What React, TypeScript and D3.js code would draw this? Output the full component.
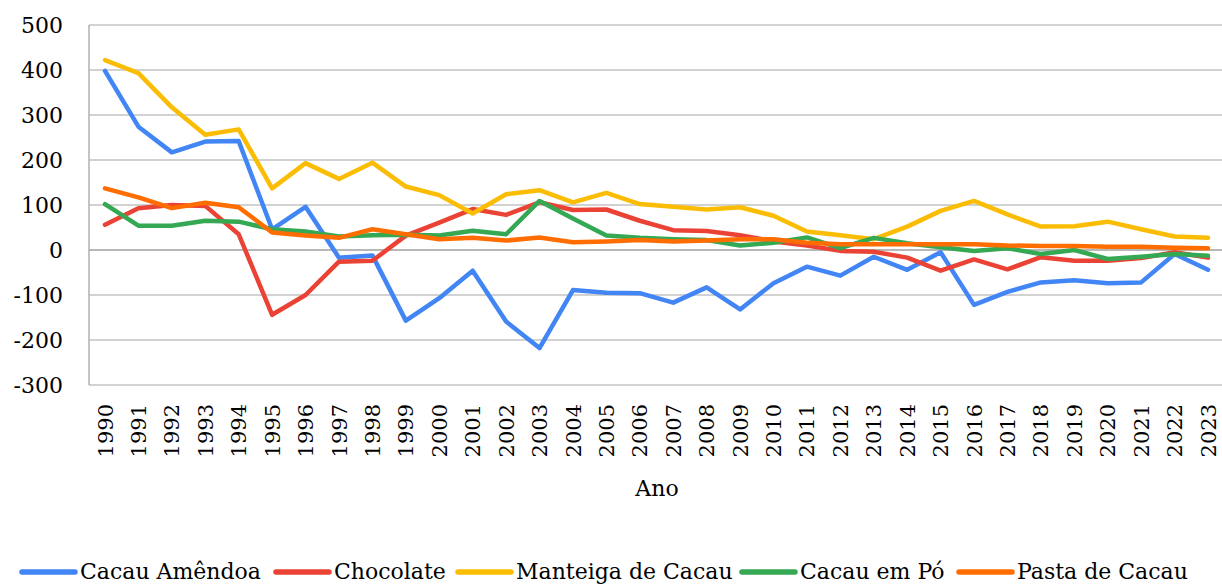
import { useRef, useEffect } from 'react';
import * as d3 from 'd3';

const YEARS = d3.range(1990, 2024).map(String);

const CACAU_AMENDOA = [398, 274, 217, 241, 242, 46, 96, -17, -12, -157, -107, -46, -159, -218, -89, -95, -96, -117, -83, -132, -74, -37, -57, -15, -44, -5, -122, -93, -72, -67, -74, -72, -9, -44];
const CHOCOLATE = [56, 93, 100, 98, 35, -144, -100, -26, -24, 32, 61, 91, 78, 106, 89, 90, 65, 44, 42, 33, 19, 10, -2, -4, -17, -46, -21, -43, -16, -24, -24, -18, -5, -17];
const MANTEIGA = [422, 393, 317, 256, 268, 137, 193, 158, 194, 141, 122, 81, 124, 133, 106, 127, 102, 96, 90, 95, 76, 41, 33, 24, 52, 87, 109, 79, 52, 53, 63, 46, 30, 27];
const CACAU_PO = [102, 54, 54, 65, 63, 46, 41, 30, 33, 34, 32, 43, 35, 109, 70, 32, 27, 24, 22, 10, 16, 28, 4, 27, 15, 6, -2, 4, -9, 0, -20, -15, -9, -13];
const PASTA = [137, 117, 93, 105, 95, 39, 32, 27, 46, 35, 24, 27, 21, 28, 17, 19, 22, 19, 21, 24, 24, 16, 13, 13, 13, 13, 13, 10, 9, 9, 7, 7, 5, 4];

const SERIES = [
  { name: 'Cacau Amêndoa', values: CACAU_AMENDOA, color: '#4285F4' },
  { name: 'Chocolate', values: CHOCOLATE, color: '#EA4335' },
  { name: 'Manteiga de Cacau', values: MANTEIGA, color: '#FBBC04' },
  { name: 'Cacau em Pó', values: CACAU_PO, color: '#34A853' },
  { name: 'Pasta de Cacau', values: PASTA, color: '#FF6D01' },
];

const Y_TICKS = [-300, -200, -100, 0, 100, 200, 300, 400, 500];
const LEGEND_X = [20, 274, 456, 740, 957];

const WIDTH = 1222;
const HEIGHT = 584;
const FONT = '"DejaVu Serif", "Liberation Serif", serif';

export default function App() {
  const svgRef = useRef<SVGSVGElement>(null);

  useEffect(() => {
    const svg = d3.select(svgRef.current);
    svg.selectAll('*').remove();

    const x = d3.scalePoint<string>().domain(YEARS).range([105, 1208]);
    const y = d3.scaleLinear().domain([-300, 500]).range([385, 25]);

    const g = svg.append('g');

    // Grid
    g.append('g')
      .selectAll('line')
      .data(Y_TICKS)
      .join('line')
      .attr('x1', 89)
      .attr('x2', WIDTH)
      .attr('y1', d => y(d))
      .attr('y2', d => y(d))
      .attr('stroke', d => (d === 0 ? '#a0a0a0' : '#c3c3c3'))
      .attr('stroke-width', 1.5);

    // Left axis line
    g.append('line')
      .attr('x1', 89).attr('x2', 89)
      .attr('y1', y(500)).attr('y2', y(-300))
      .attr('stroke', '#b0b0b0')
      .attr('stroke-width', 1.5);

    // Y labels
    g.append('g')
      .selectAll('text')
      .data(Y_TICKS)
      .join('text')
      .attr('x', 63)
      .attr('y', d => y(d))
      .attr('dy', '0.36em')
      .attr('text-anchor', 'end')
      .attr('font-family', FONT)
      .attr('font-size', 22)
      .attr('fill', '#000')
      .text(d => String(d));

    // X labels
    g.append('g')
      .selectAll('text')
      .data(YEARS)
      .join('text')
      .attr('transform', d => `translate(${x(d)},404) rotate(-90)`)
      .attr('dy', '0.36em')
      .attr('text-anchor', 'end')
      .attr('font-family', FONT)
      .attr('font-size', 21)
      .attr('fill', '#000')
      .text(d => d);

    // Axis title
    g.append('text')
      .attr('x', 657)
      .attr('y', 496)
      .attr('text-anchor', 'middle')
      .attr('font-family', FONT)
      .attr('font-size', 22)
      .attr('fill', '#000')
      .text('Ano');

    // Lines
    const line = d3.line<number>()
      .x((_, i) => x(YEARS[i]) as number)
      .y(d => y(d));

    SERIES.forEach(s => {
      g.append('path')
        .datum(s.values)
        .attr('d', line)
        .attr('fill', 'none')
        .attr('stroke', s.color)
        .attr('stroke-width', 4.5)
        .attr('stroke-linejoin', 'round')
        .attr('stroke-linecap', 'round');
    });

    // Legend
    const legend = svg.append('g');
    SERIES.forEach((s, i) => {
      const lg = legend.append('g').attr('transform', `translate(${LEGEND_X[i]},572)`);
      lg.append('line')
        .attr('x1', 2).attr('x2', 55)
        .attr('stroke', s.color)
        .attr('stroke-width', 5.5)
        .attr('stroke-linecap', 'round');
      lg.append('text')
        .attr('x', 60)
        .attr('y', 7)
        .attr('font-family', FONT)
        .attr('font-size', 22)
        .attr('fill', '#000')
        .text(s.name);
    });
  }, []);

  return (
    <svg
      ref={svgRef}
      width={WIDTH}
      height={HEIGHT}
      style={{ position: 'absolute', left: 0, top: 0, background: '#fff' }}
    />
  );
}
